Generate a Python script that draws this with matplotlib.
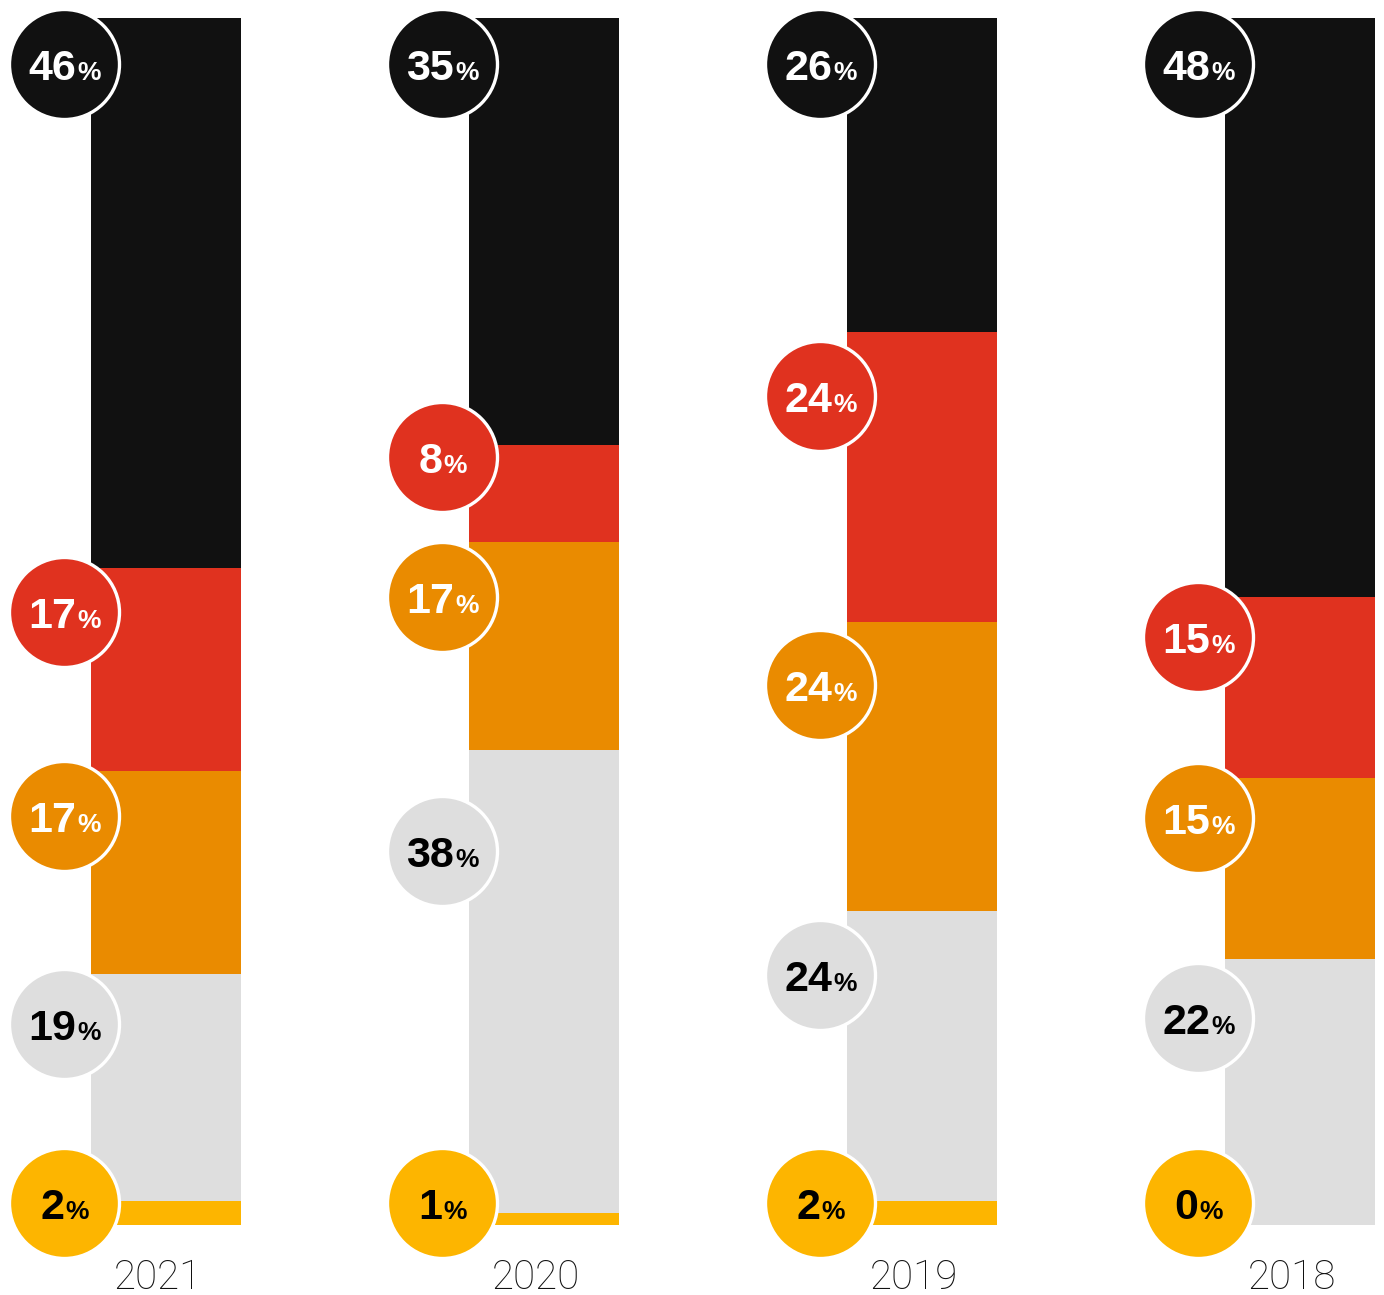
import matplotlib
matplotlib.use("Agg")
import matplotlib.pyplot as plt
import matplotlib.transforms as mtransforms
import numpy as np

# data, top segment first
years = ["2021", "2020", "2019", "2018"]
seg_black = [46, 35, 26, 48]
seg_red = [17, 8, 24, 15]
seg_orange = [17, 17, 24, 15]
seg_gray = [19, 38, 24, 22]
seg_yellow = [2, 1, 2, 0]

segments = [seg_black, seg_red, seg_orange, seg_gray, seg_yellow]
colors = ["#111111", "#E0321F", "#EA8B00", "#DEDEDE", "#FDB500"]
text_colors = ["white", "white", "white", "black", "black"]

W, H = 1384, 1295
fig = plt.figure(figsize=(W / 100, H / 100), dpi=100)
ax = fig.add_axes([0, 70 / H, 1, 1207 / H])
ax.set_xlim(-166 / 378, (W - 166) / 378)
ax.set_ylim(100, 0)
ax.axis("off")

x = np.arange(len(years))
vals = np.array(segments, dtype=float)
vals = vals / vals.sum(axis=0) * 100
bottoms = np.vstack([np.zeros(len(years)), np.cumsum(vals, axis=0)[:-1]])

for k in range(len(segments)):
    ax.bar(x, vals[k], bottom=bottoms[k], width=150 / 378, color=colors[k],
           align="center", linewidth=0, zorder=1)

# pixel conversions
px_y = ax.bbox.height / 100.0       # px per y unit
px_x = ax.bbox.width / (ax.get_xlim()[1] - ax.get_xlim()[0])
r = 55
min_gap = 140

renderer = fig.canvas.get_renderer()
num_font = dict(family="Liberation Sans", weight="bold", size=31)
pct_font = dict(family="Liberation Sans", weight="bold", size=19)

for i in range(len(years)):
    # label positions in px from bar top
    ys = []
    for k in range(len(segments)):
        top = bottoms[k][i] * px_y
        h = vals[k][i] * px_y
        if k == 0:
            ys.append(46.0)
        elif k == len(segments) - 1:
            ys.append(100 * px_y - 22)
        else:
            ys.append(top + 0.22 * h)
    fixed = [True] + [False] * (len(segments) - 2) + [True]
    for _ in range(50):
        for k in range(len(ys) - 1):
            gap = ys[k + 1] - ys[k]
            if gap < min_gap:
                d = min_gap - gap
                if fixed[k]:
                    ys[k + 1] += d
                elif fixed[k + 1]:
                    ys[k] -= d
                else:
                    ys[k] -= d / 2
                    ys[k + 1] += d / 2

    xc = x[i] - 102 / px_x
    for k in range(len(segments)):
        yc = ys[k] / px_y
        ax.scatter([xc], [yc], s=(2 * r * 0.72) ** 2, color=colors[k],
                   edgecolors="white", linewidths=2.4, zorder=3, clip_on=False)
        num = str(segments[k][i])
        t1 = ax.text(0, 0, num, **num_font)
        t2 = ax.text(0, 0, "%", **pct_font)
        w1 = t1.get_window_extent(renderer).width
        w2 = t2.get_window_extent(renderer).width
        t1.remove()
        t2.remove()
        left = -(w1 + w2) / 2
        tr1 = mtransforms.offset_copy(ax.transData, fig=fig, x=left, y=-16, units="dots")
        tr2 = mtransforms.offset_copy(ax.transData, fig=fig, x=left + w1 + 1, y=-16, units="dots")
        ax.text(xc, yc, num, transform=tr1, ha="left", va="baseline",
                color=text_colors[k], zorder=4, clip_on=False, **num_font)
        ax.text(xc, yc, "%", transform=tr2, ha="left", va="baseline",
                color=text_colors[k], zorder=4, clip_on=False, **pct_font)

    tr = mtransforms.offset_copy(ax.transData, fig=fig, x=-8, y=-64, units="dots")
    ax.text(x[i], 100, years[i], transform=tr, ha="center", va="baseline",
            family="Roboto", weight="light", size=29, color="#111111", clip_on=False)

fig.savefig("out.png", dpi=100)
